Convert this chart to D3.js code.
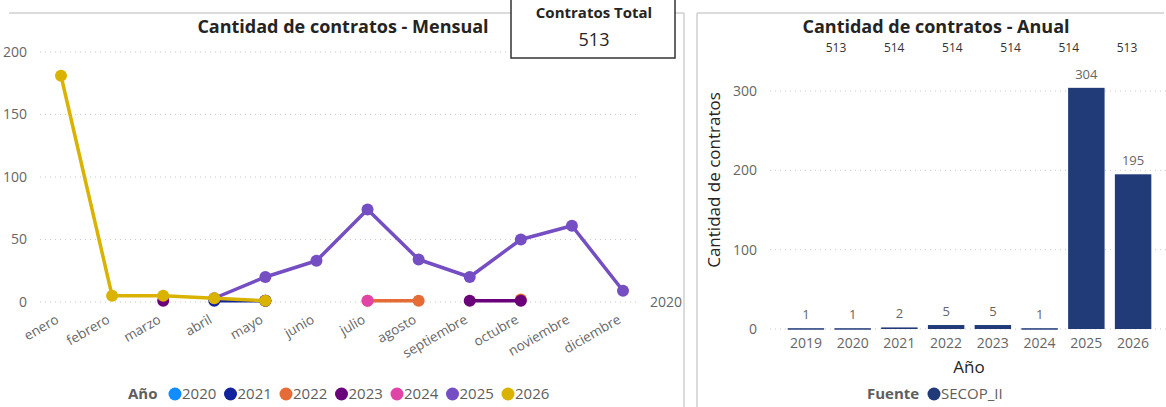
<!DOCTYPE html>
<html>
<head>
<meta charset="utf-8">
<script src="https://cdn.jsdelivr.net/npm/d3@7"></script>
<style>
  body { margin: 0; background: #fff; }
  svg { display: block; font-family: "Open Sans", "Noto Sans", sans-serif; }
  .grid line { stroke: #c8c8c8; stroke-dasharray: 1 4; }
  .tick-lbl { fill: #666; font-size: 13px; }
</style>
</head>
<body>
<svg id="vis" width="1166" height="407"></svg>
<script>
// monthly chart data
var months = ['enero', 'febrero', 'marzo', 'abril', 'mayo', 'junio', 'julio',
  'agosto', 'septiembre', 'octubre', 'noviembre', 'diciembre'];
var years = ['2020', '2021', '2022', '2023', '2024', '2025', '2026'];
var yearColors = ['#118DFF', '#12239E', '#E66C37', '#6B007B', '#E044A7', '#744EC2', '#D9B300'];
var v2020 = [null, null, null, null, 1, null, null, null, null, null, null, null];
var v2021 = [null, null, null, 1, 1, null, null, null, null, null, null, null];
var v2022 = [null, null, null, null, null, null, 1, 1, null, 2, null, null];
var v2023 = [null, null, 1, null, 1, null, null, null, 1, 1, null, null];
var v2024 = [null, null, null, null, null, null, 1, null, null, null, null, null];
var v2025 = [null, null, null, 3, 20, 33, 74, 34, 20, 50, 61, 9];
var v2026 = [181, 5, 5, 3, 1, null, null, null, null, null, null, null];
var monthlySeries = [v2020, v2021, v2022, v2023, v2024, v2025, v2026];
var monthlyTicks = [0, 50, 100, 150, 200];

// annual chart data
var annualYears = ['2019', '2020', '2021', '2022', '2023', '2024', '2025', '2026'];
var annualValues = [1, 1, 2, 5, 5, 1, 304, 195];
var annualTicks = [0, 100, 200, 300];
var totalsRow = [513, 514, 514, 514, 514, 513];
var cardTotal = 513;

var svg = d3.select('#vis');

// ---------- panel frames ----------
svg.append('line').attr('x1', 9).attr('x2', 684).attr('y1', 13).attr('y2', 13)
  .attr('stroke', '#cfcfcf').attr('stroke-width', 1.5);
svg.append('line').attr('x1', 684).attr('x2', 684).attr('y1', 13).attr('y2', 407)
  .attr('stroke', '#cfcfcf').attr('stroke-width', 1.5);
svg.append('line').attr('x1', 697).attr('x2', 1164).attr('y1', 13).attr('y2', 13)
  .attr('stroke', '#cfcfcf').attr('stroke-width', 1.5);
svg.append('line').attr('x1', 697).attr('x2', 697).attr('y1', 13).attr('y2', 407)
  .attr('stroke', '#cfcfcf').attr('stroke-width', 1.5);

// ---------- monthly line chart ----------
var xM = d3.scalePoint().domain(months).range([61, 623]);
var yM = d3.scaleLinear().domain([0, 200]).range([302, 52]);

var gM = svg.append('g');

gM.append('text')
  .attr('x', 343).attr('y', 33)
  .attr('text-anchor', 'middle')
  .style('font-weight', 'bold').style('font-size', '18px').attr('fill', '#252423')
  .text('Cantidad de contratos - Mensual');

var gridM = gM.append('g').attr('class', 'grid');
gridM.selectAll('line').data(monthlyTicks).enter().append('line')
  .attr('x1', 40).attr('x2', 640)
  .attr('y1', function (d) { return yM(d); })
  .attr('y2', function (d) { return yM(d); });

gM.selectAll('.ylbl').data(monthlyTicks).enter().append('text')
  .attr('class', 'tick-lbl ylbl')
  .attr('x', 27).attr('y', function (d) { return yM(d); })
  .attr('dy', '0.35em').attr('text-anchor', 'end')
  .style('font-size', '14px')
  .text(function (d) { return d; });

gM.selectAll('.xlbl').data(months).enter().append('text')
  .attr('class', 'tick-lbl xlbl')
  .attr('text-anchor', 'end')
  .attr('transform', function (d) { return 'translate(' + (xM(d) - 6) + ',314) rotate(-30)'; })
  .attr('dy', '0.7em')
  .style('font-size', '13.5px')
  .text(function (d) { return d; });

var line = d3.line()
  .defined(function (d) { return d != null; })
  .x(function (d, i) { return xM(months[i]); })
  .y(function (d) { return yM(d); });

monthlySeries.forEach(function (vals, k) {
  var s = gM.append('g');
  s.append('path').datum(vals)
    .attr('d', line)
    .attr('fill', 'none')
    .attr('stroke', yearColors[k])
    .attr('stroke-width', 3.5)
    .attr('stroke-linejoin', 'round');
  s.selectAll('circle')
    .data(vals.map(function (v, i) { return { v: v, m: months[i] }; })
      .filter(function (d) { return d.v != null; }))
    .enter().append('circle')
    .attr('cx', function (d) { return xM(d.m); })
    .attr('cy', function (d) { return yM(d.v); })
    .attr('r', 6)
    .attr('fill', yearColors[k]);
});

// stray series label at right end of the axis
gM.append('text').attr('class', 'tick-lbl')
  .attr('x', 650).attr('y', yM(0)).attr('dy', '0.35em')
  .style('font-size', '14px')
  .text(years[0]);

// legend
var legM = gM.append('g').attr('transform', 'translate(0,394)');
legM.append('text').attr('x', 128).attr('dy', '0.35em')
  .style('font-weight', 'bold').style('font-size', '15px').attr('fill', '#605E5C')
  .text('Año');
var itemsM = legM.selectAll('.item').data(years).enter().append('g')
  .attr('transform', function (d, i) { return 'translate(' + (175 + i * 55.5) + ',0)'; });
itemsM.append('circle').attr('r', 6.5)
  .attr('fill', function (d, i) { return yearColors[i]; });
itemsM.append('text').attr('x', 7).attr('dy', '0.35em')
  .style('font-size', '15px').attr('fill', '#605E5C')
  .text(function (d) { return d; });

// card
var card = svg.append('g');
card.append('rect').attr('x', 511).attr('y', -3).attr('width', 164).attr('height', 61)
  .attr('fill', '#fff').attr('stroke', '#333').attr('stroke-width', 1.5);
card.append('text').attr('x', 594).attr('y', 18).attr('text-anchor', 'middle')
  .style('font-weight', 'bold').style('font-size', '15px').attr('fill', '#252423')
  .text('Contratos Total');
card.append('text').attr('x', 594).attr('y', 46).attr('text-anchor', 'middle')
  .style('font-size', '18px').attr('fill', '#252423')
  .text(cardTotal);

// ---------- annual bar chart ----------
var xA = d3.scaleBand().domain(annualYears).range([783, 1156]).paddingInner(0.22).paddingOuter(0.1);
var yA = d3.scaleLinear().domain([0, 300]).range([329, 91]);

var gA = svg.append('g');

gA.append('text')
  .attr('x', 936).attr('y', 33)
  .attr('text-anchor', 'middle')
  .style('font-weight', 'bold').style('font-size', '18px').attr('fill', '#252423')
  .text('Cantidad de contratos - Anual');

var xTot = d3.scalePoint().domain(d3.range(totalsRow.length)).range([836, 1127]);
gA.selectAll('.tot').data(totalsRow).enter().append('text')
  .attr('x', function (d, i) { return xTot(i); }).attr('y', 52)
  .attr('text-anchor', 'middle')
  .style('font-size', '12px').attr('fill', '#333')
  .text(function (d) { return d; });

var gridA = gA.append('g').attr('class', 'grid');
gridA.selectAll('line').data(annualTicks).enter().append('line')
  .attr('x1', 770).attr('x2', 1166)
  .attr('y1', function (d) { return yA(d); })
  .attr('y2', function (d) { return yA(d); });

gA.selectAll('.ylbl').data(annualTicks).enter().append('text')
  .attr('class', 'tick-lbl ylbl')
  .attr('x', 757).attr('y', function (d) { return yA(d); })
  .attr('dy', '0.35em').attr('text-anchor', 'end')
  .style('font-size', '14px')
  .text(function (d) { return d; });

gA.selectAll('.bar').data(annualValues).enter().append('rect')
  .attr('class', 'bar')
  .attr('x', function (d, i) { return xA(annualYears[i]); })
  .attr('width', xA.bandwidth())
  .attr('y', function (d) { return yA(d); })
  .attr('height', function (d) { return Math.max(yA(0) - yA(d), 1.5); })
  .attr('fill', '#213A78');

gA.selectAll('.blbl').data(annualValues).enter().append('text')
  .attr('class', 'tick-lbl blbl')
  .attr('x', function (d, i) { return xA(annualYears[i]) + xA.bandwidth() / 2; })
  .attr('y', function (d) { return Math.min(yA(d), yA(0) - 1.5) - 9; })
  .attr('text-anchor', 'middle')
  .style('font-size', '13px')
  .text(function (d) { return d; });

gA.selectAll('.xlbl').data(annualYears).enter().append('text')
  .attr('class', 'tick-lbl xlbl')
  .attr('x', function (d) { return xA(d) + xA.bandwidth() / 2; })
  .attr('y', 348)
  .attr('text-anchor', 'middle')
  .style('font-size', '14px')
  .text(function (d) { return d; });

gA.append('text').attr('x', 969).attr('y', 373).attr('text-anchor', 'middle')
  .style('font-size', '17px').attr('fill', '#252423').text('Año');

gA.append('text')
  .attr('transform', 'translate(720,180) rotate(-90)')
  .attr('text-anchor', 'middle')
  .style('font-size', '17px').attr('fill', '#252423')
  .text('Cantidad de contratos');

var legA = gA.append('g').attr('transform', 'translate(0,394)');
legA.append('text').attr('x', 867).attr('dy', '0.35em')
  .style('font-weight', 'bold').style('font-size', '15px').attr('fill', '#605E5C')
  .text('Fuente');
legA.append('circle').attr('cx', 934).attr('r', 6.5).attr('fill', '#213A78');
legA.append('text').attr('x', 941).attr('dy', '0.35em')
  .style('font-size', '15px').attr('fill', '#605E5C')
  .text('SECOP_II');
</script>
</body>
</html>
